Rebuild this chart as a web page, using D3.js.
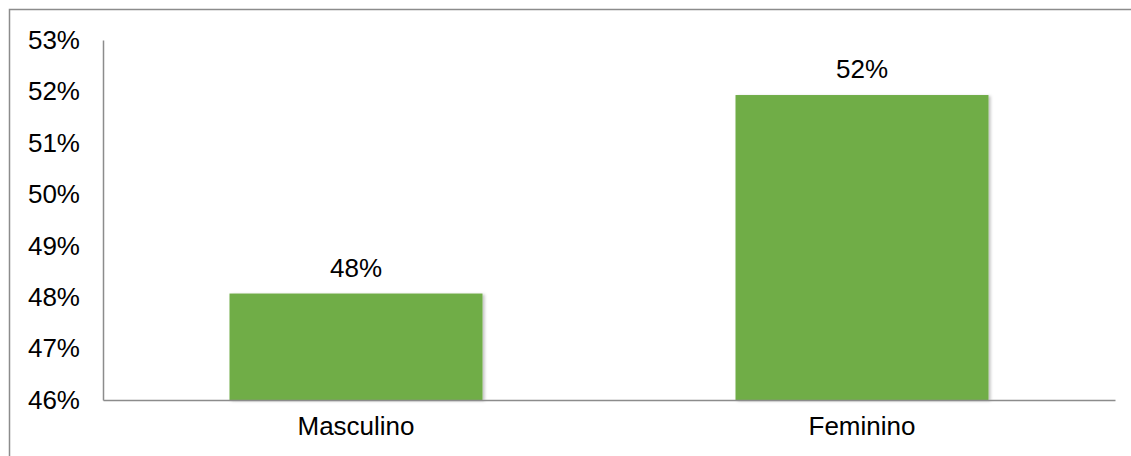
<!DOCTYPE html>
<html>
<head>
<meta charset="utf-8">
<script src="https://cdn.jsdelivr.net/npm/d3@7"></script>
<style>
  html, body { margin: 0; padding: 0; background: #fff; overflow: hidden; }
  svg { display: block; font-family: "Liberation Sans", Arial, sans-serif; }
</style>
</head>
<body>
<svg id="chart" width="1131" height="456"></svg>
<script>
// Gender distribution
const categories = ["Masculino", "Feminino"];
const shares = [0.4807, 0.5193];
const yTicks = [0.46, 0.47, 0.48, 0.49, 0.50, 0.51, 0.52, 0.53];
const yTickLabels = ["46%", "47%", "48%", "49%", "50%", "51%", "52%", "53%"];

const svg = d3.select("#chart");
const W = 1131, H = 456;
const margin = { left: 103, right: 16, top: 40, bottom: 56 };
const fontSize = 26;

// chart frame (open on the right and bottom edges)
svg.append("rect")
  .attr("x", 9.5).attr("y", 9.5)
  .attr("width", W + 20).attr("height", H + 20)
  .attr("fill", "none").attr("stroke", "#8c8c8c").attr("stroke-width", 1.5);

const x = d3.scaleBand()
  .domain(categories)
  .range([margin.left, W - margin.right])
  .paddingInner(0.5).paddingOuter(0.25);

const y = d3.scaleLinear()
  .domain([0.46, 0.53])
  .range([H - margin.bottom, margin.top]);

// soft shadow under bars
const defs = svg.append("defs");
const f = defs.append("filter").attr("id", "shadow")
  .attr("x", "-5%").attr("y", "-5%").attr("width", "115%").attr("height", "115%");
f.append("feDropShadow").attr("dx", 2).attr("dy", 1).attr("stdDeviation", 1.5)
  .attr("flood-color", "#000").attr("flood-opacity", 0.25);

svg.append("g").selectAll("rect")
  .data(categories)
  .join("rect")
  .attr("x", d => x(d))
  .attr("width", x.bandwidth())
  .attr("y", (d, i) => y(shares[i]))
  .attr("height", (d, i) => y(0.46) - y(shares[i]))
  .attr("fill", "#70ad47")
  .attr("filter", "url(#shadow)");

// value labels
svg.append("g").selectAll("text")
  .data(categories)
  .join("text")
  .attr("x", d => x(d) + x.bandwidth() / 2)
  .attr("y", (d, i) => y(shares[i]) - 17)
  .attr("text-anchor", "middle")
  .attr("font-size", fontSize)
  .attr("fill", "#000")
  .text((d, i) => d3.format(".0%")(shares[i]));

// y axis
const yAxis = svg.append("g")
  .attr("transform", `translate(${margin.left},0)`)
  .call(d3.axisLeft(y).tickValues(yTicks).tickSize(0).tickPadding(23)
    .tickFormat((d, i) => yTickLabels[i]));
yAxis.select(".domain").attr("stroke", "#8c8c8c").attr("stroke-width", 1.5);
yAxis.selectAll("text").attr("font-size", fontSize).attr("fill", "#000")
  .attr("font-family", "\"Liberation Sans\", Arial, sans-serif");

// x axis
const xAxis = svg.append("g")
  .attr("transform", `translate(0,${H - margin.bottom})`)
  .call(d3.axisBottom(x).tickSize(0).tickPadding(17));
xAxis.select(".domain").attr("stroke", "#8c8c8c").attr("stroke-width", 1.5);
xAxis.selectAll("text").attr("font-size", fontSize).attr("fill", "#000")
  .attr("font-family", "\"Liberation Sans\", Arial, sans-serif");
</script>
</body>
</html>
